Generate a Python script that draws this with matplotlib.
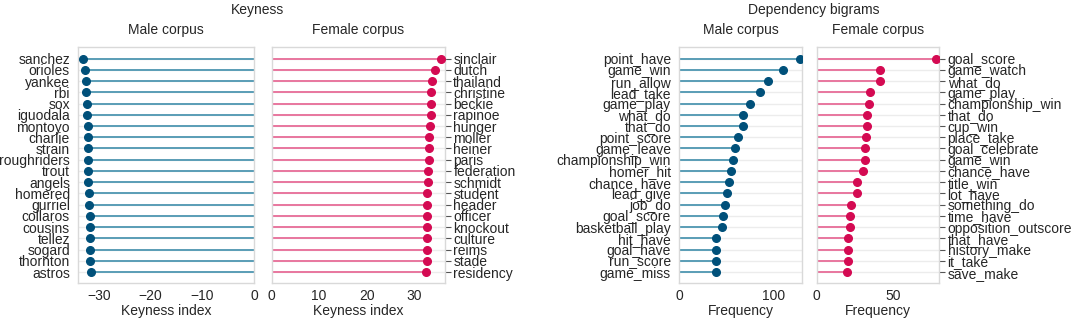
import matplotlib.pyplot as plt

plt.rcParams['font.family'] = ['Liberation Sans', 'DejaVu Sans']

# Keyness - male corpus (top to bottom)
male_words = ['sanchez', 'orioles', 'yankee', 'rbi', 'sox', 'iguodala', 'montoyo', 'charlie',
              'strain', 'roughriders', 'trout', 'angels', 'homered', 'gurriel', 'collaros',
              'cousins', 'tellez', 'sogard', 'thornton', 'astros']
male_keyness = [-33.0, -32.6, -32.5, -32.5, -32.4, -32.4, -32.1, -32.1, -32.1, -32.1,
                -32.1, -32.1, -31.9, -31.9, -31.8, -31.8, -31.8, -31.8, -31.8, -31.6]

# Keyness - female corpus
female_words = ['sinclair', 'dutch', 'thailand', 'christine', 'beckie', 'rapinoe', 'hunger',
                'moller', 'heiner', 'paris', 'federation', 'schmidt', 'student', 'header',
                'officer', 'knockout', 'culture', 'reims', 'stade', 'residency']
female_keyness = [35.6, 34.5, 33.7, 33.5, 33.5, 33.5, 33.35, 33.2, 33.2, 33.2,
                  32.9, 32.9, 32.8, 32.8, 32.7, 32.7, 32.7, 32.7, 32.7, 32.4]

# Dependency bigrams - male corpus
male_bigrams = ['point_have', 'game_win', 'run_allow', 'lead_take', 'game_play', 'what_do',
                'that_do', 'point_score', 'game_leave', 'championship_win', 'homer_hit',
                'chance_have', 'lead_give', 'job_do', 'goal_score', 'basketball_play',
                'hit_have', 'goal_have', 'run_score', 'game_miss']
male_freq = [129, 110, 95, 86, 75, 68, 68, 62, 59, 57, 55, 53, 51, 49, 47, 45, 39, 39, 39, 39]

# Dependency bigrams - female corpus
female_bigrams = ['goal_score', 'game_watch', 'what_do', 'game_play', 'championship_win',
                  'that_do', 'cup_win', 'place_take', 'goal_celebrate', 'game_win',
                  'chance_have', 'title_win', 'lot_have', 'something_do', 'time_have',
                  'opposition_outscore', 'that_have', 'history_make', 'it_take', 'save_make']
female_freq = [78, 41, 41, 35, 34, 33, 33, 32, 31.5, 31.5, 30, 26.5, 26.5, 22.5, 21.5,
               21.5, 20.5, 20.5, 20.5, 19.5]

blue_line, blue_dot = '#5a9db6', '#00507a'
pink_line, pink_dot = '#e8769e', '#d40a52'

fig = plt.figure(figsize=(10.72, 3.22), dpi=100)
H = 0.733
B = 0.120
ax1 = fig.add_axes([0.0730, B, 0.1639, H])
ax2 = fig.add_axes([0.2534, B, 0.1617, H])
ax3 = fig.add_axes([0.6337, B, 0.1147, H])
ax4 = fig.add_axes([0.7618, B, 0.1144, H])


def lollipop(ax, labels, values, lc, mc, xlim, right=False):
    y = list(range(len(labels)))
    ax.grid(axis='y', color='#ececec', linewidth=1, zorder=0)
    ax.grid(axis='x', visible=False)
    ax.hlines(y, 0, values, color=lc, linewidth=1.4, zorder=2)
    ax.plot(values, y, 'o', color=mc, markersize=5.5, zorder=3)
    ax.set_yticks(y)
    ax.set_yticklabels(labels, fontsize=10, color='#262626')
    ax.set_ylim(len(labels), -1)
    ax.set_xlim(*xlim)
    ax.set_facecolor('white')
    for s in ax.spines.values():
        s.set_color('#d9d9d9')
        s.set_linewidth(1)
    ax.tick_params(axis='x', length=0, labelsize=10, labelcolor='#262626', pad=4)
    if right:
        ax.yaxis.tick_right()
        ax.tick_params(axis='y', length=4, width=0.8, color='#555555', pad=2)
    else:
        ax.tick_params(axis='y', length=0, pad=6)


lollipop(ax1, male_words, male_keyness, blue_line, blue_dot, (-34, 0))
lollipop(ax2, female_words, female_keyness, pink_line, pink_dot, (0, 36.5), right=True)
lollipop(ax3, male_bigrams, male_freq, blue_line, blue_dot, (0, 131))
lollipop(ax4, female_bigrams, female_freq, pink_line, pink_dot, (0, 80), right=True)

ax1.set_xticks([-30, -20, -10, 0])
ax1.set_xticklabels(['\u221230', '\u221220', '\u221210', '0'])
ax2.set_xticks([0, 10, 20, 30])
ax3.set_xticks([0, 100])
ax4.set_xticks([0, 50])

for ax, lab in [(ax1, 'Keyness index'), (ax2, 'Keyness index'), (ax3, 'Frequency'), (ax4, 'Frequency')]:
    ax.set_xlabel(lab, fontsize=10, color='#262626', labelpad=1)

tc = '#262626'
fig.text(257.7 / 1072, 1 - 10 / 322, 'Keyness', ha='center', va='center', fontsize=10, color=tc)
fig.text(813.3 / 1072, 1 - 10 / 322, 'Dependency bigrams', ha='center', va='center', fontsize=10, color=tc)
for ax in [ax1, ax2, ax3, ax4]:
    pos = ax.get_position()
    name = 'Male corpus' if ax in (ax1, ax3) else 'Female corpus'
    fig.text(pos.x0 + pos.width / 2, 1 - 30 / 322, name, ha='center', va='center', fontsize=10, color=tc)

fig.savefig('out.png', dpi=100)
